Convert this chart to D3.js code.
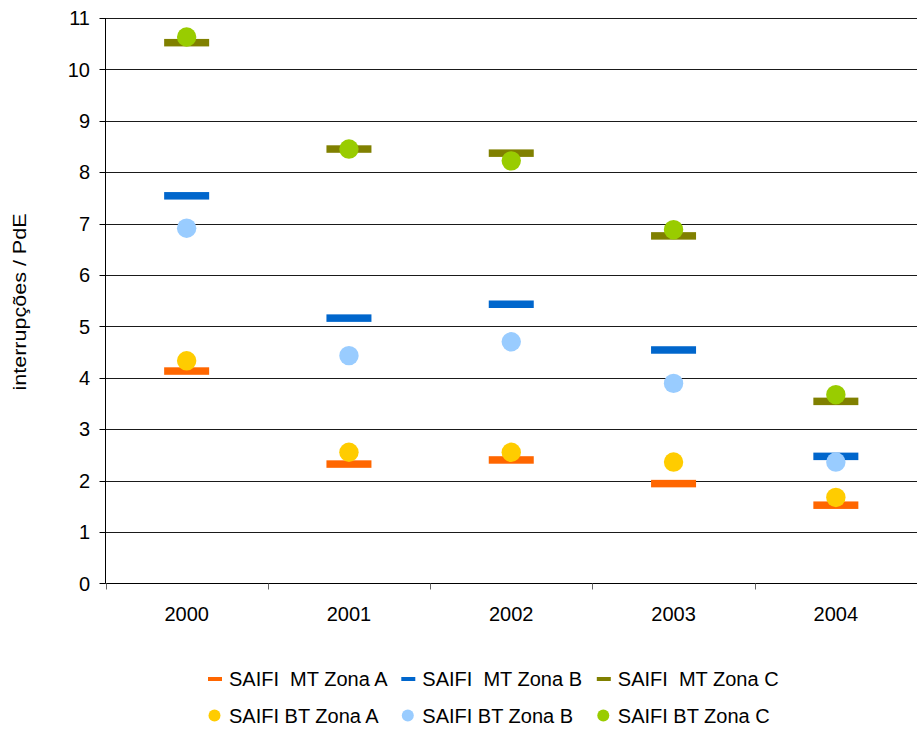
<!DOCTYPE html>
<html><head><meta charset="utf-8">
<script src="https://cdn.jsdelivr.net/npm/d3@7"></script>
<style>body{margin:0;background:#fff}svg{display:block}text{font-family:"Liberation Sans",Arial,sans-serif;fill:#000}</style>
</head><body>
<script>
const years = ["2000","2001","2002","2003","2004"];
const yTicks = [0,1,2,3,4,5,6,7,8,9,10,11];
const mtA = [4.13, 2.32, 2.40, 1.94, 1.52];
const mtB = [7.54, 5.16, 5.43, 4.54, 2.47];
const mtC = [10.52, 8.45, 8.37, 6.76, 3.54];
const btA = [4.33, 2.55, 2.55, 2.36, 1.67];
const btB = [6.91, 4.43, 4.70, 3.89, 2.36];
const btC = [10.63, 8.45, 8.22, 6.88, 3.67];
const seriesNames = ["SAIFI  MT Zona A","SAIFI  MT Zona B","SAIFI  MT Zona C","SAIFI BT Zona A","SAIFI BT Zona B","SAIFI BT Zona C"];
const colors = ["#FF6600","#0066CC","#808000","#FFCC00","#99CCFF","#99CC00"];

const W=917,H=731;
const svg=d3.select("body").append("svg").attr("width",W).attr("height",H);
const x=d3.scaleBand().domain(years).range([105.5,917]);
const y=d3.scaleLinear().domain([0,11]).range([583.3,18]);
const py=v=>Math.round(y(v))+0.5;

// gridlines
svg.append("g").selectAll("line").data(yTicks.filter(d=>d>0)).join("line")
  .attr("x1",105.5).attr("x2",917)
  .attr("y1",py).attr("y2",py)
  .attr("stroke","#1a1a1a").attr("stroke-width",1);

// y axis
const ya=svg.append("g").attr("transform","translate(105.5,0)");
ya.append("line").attr("y1",y(11)).attr("y2",py(0)).attr("stroke","#000");
ya.selectAll("line.t").data(yTicks).join("line").attr("class","t")
  .attr("x1",-6).attr("x2",0).attr("y1",py).attr("y2",py).attr("stroke","#000");
ya.selectAll("text").data(yTicks).join("text")
  .attr("x",-15.5).attr("y",d=>y(d)).attr("dy","0.36em").attr("text-anchor","end")
  .attr("font-size",20).text(d=>d);

// x axis
const xa=svg.append("g");
xa.append("line").attr("x1",105.5).attr("x2",917).attr("y1",py(0)).attr("y2",py(0)).attr("stroke","#000");
xa.selectAll("line.t").data(years).join("line").attr("class","t")
  .attr("x1",d=>Math.round(x(d))+0.5).attr("x2",d=>Math.round(x(d))+0.5)
  .attr("y1",py(0)).attr("y2",py(0)+6).attr("stroke","#666");
xa.selectAll("text").data(years).join("text")
  .attr("x",d=>x(d)+x.bandwidth()/2).attr("y",621).attr("text-anchor","middle")
  .attr("font-size",20).text(d=>d);

// y title
svg.append("text").attr("transform","translate(26,302) rotate(-90)")
  .attr("text-anchor","middle").attr("font-size",18)
  .attr("textLength",177).attr("lengthAdjust","spacingAndGlyphs")
  .text("interrupções / PdE");

// marks
const cx=d=>x(d)+x.bandwidth()/2;
const mtSeries=[mtA,mtB,mtC], btSeries=[btA,btB,btC];
mtSeries.forEach((s,i)=>{
  svg.append("g").selectAll("rect").data(years).join("rect")
    .attr("x",d=>cx(d)-22.5).attr("width",45)
    .attr("y",(d,j)=>y(s[j])-3.75).attr("height",7.5)
    .attr("fill",colors[i]);
});
btSeries.forEach((s,i)=>{
  svg.append("g").selectAll("circle").data(years).join("circle")
    .attr("cx",d=>cx(d)).attr("cy",(d,j)=>y(s[j])).attr("r",9.7)
    .attr("fill",colors[i+3]);
});

// legend
const legTextX=[229,422.3,617.8];
const legY=[679,715.5];
seriesNames.forEach((n,i)=>{
  const r=Math.floor(i/3), c=i%3;
  const g=svg.append("g");
  if(r===0){
    g.append("rect").attr("x",legTextX[c]-21).attr("y",legY[r]-2).attr("width",14).attr("height",4).attr("fill",colors[i]);
  } else {
    g.append("circle").attr("cx",legTextX[c]-14.5).attr("cy",legY[r]).attr("r",6).attr("fill",colors[i]);
  }
  g.append("text").attr("x",legTextX[c]).attr("y",legY[r]).attr("dy","0.36em")
    .attr("font-size",20).attr("xml:space","preserve").style("white-space","pre").text(n);
});
</script>
</body></html>
